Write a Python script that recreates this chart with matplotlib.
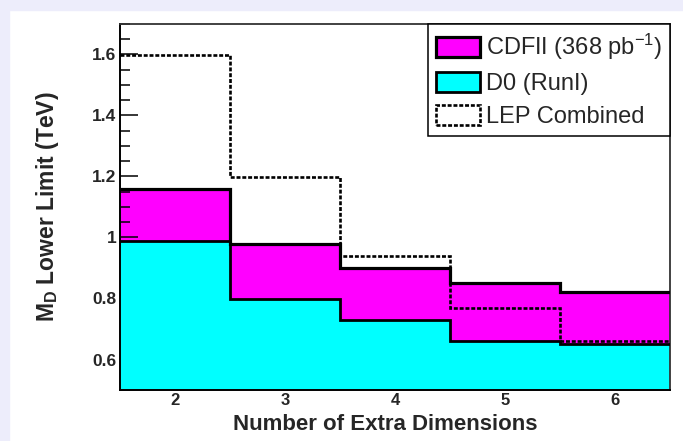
import numpy as np
import matplotlib
matplotlib.use("Agg")
import matplotlib.pyplot as plt
from matplotlib.patches import Patch, Rectangle
from matplotlib.ticker import MultipleLocator, FuncFormatter

plt.rcParams['font.family'] = ['Liberation Sans', 'DejaVu Sans']
plt.rcParams['mathtext.fontset'] = 'custom'
plt.rcParams['mathtext.rm'] = 'Liberation Sans'
plt.rcParams['mathtext.it'] = 'Liberation Sans:italic'
plt.rcParams['mathtext.bf'] = 'Liberation Sans:bold'

# Lower limits on the fundamental Planck scale M_D (TeV) per number of extra dimensions
n_extra_dims = [2, 3, 4, 5, 6]
cdf_run2 = [1.16, 0.98, 0.90, 0.85, 0.82]
d0_run1 = [0.99, 0.80, 0.73, 0.66, 0.65]
lep_combined = [1.60, 1.20, 0.94, 0.77, 0.66]

series_labels = ["CDFII (368 pb$^{\\mathregular{-1}}$)", "D0 (RunI)", "LEP Combined"]
x_label = "Number of Extra Dimensions"
y_label = "M$_{\\mathbf{D}}$ Lower Limit (TeV)"

edges = np.concatenate([np.array(n_extra_dims) - 0.5, [n_extra_dims[-1] + 0.5]])

W, H = 683, 441
fig = plt.figure(figsize=(W / 100, H / 100), dpi=100, facecolor='white')

# lavender border strips on the left and top
lav = '#ededfb'
fig.patches.append(Rectangle((0, 0), 9 / W, 1, transform=fig.transFigure, color=lav, zorder=0))
fig.patches.append(Rectangle((0, 1 - 10 / H), 1, 10 / H, transform=fig.transFigure, color=lav, zorder=0))

ax_l, ax_r, ax_t, ax_b = 120, 670, 24, 390
ax = fig.add_axes([ax_l / W, 1 - ax_b / H, (ax_r - ax_l) / W, (ax_b - ax_t) / H])
ax.set_facecolor('white')

magenta = '#ff00ff'
cyan = '#00ffff'

ax.stairs(cdf_run2, edges, fill=True, color=magenta, lw=0, baseline=0.0, zorder=1)
ax.stairs(d0_run1, edges, fill=True, color=cyan, lw=0, baseline=0.0, zorder=2)
ax.stairs(cdf_run2, edges, baseline=None, color='black', lw=2.3, zorder=3)
ax.stairs(d0_run1, edges, baseline=None, color='black', lw=2.0, zorder=3)
ax.stairs(lep_combined, edges, baseline=None, color='black', lw=1.9,
          linestyle=(0, (1.5, 0.7)), zorder=4)

ax.set_xlim(1.5, 6.5)
ax.set_ylim(0.5, 1.7)

ax.xaxis.set_major_locator(MultipleLocator(1))
ax.yaxis.set_major_locator(MultipleLocator(0.2))
ax.yaxis.set_minor_locator(MultipleLocator(0.05))
ax.yaxis.set_major_formatter(FuncFormatter(lambda v, p: f"{v:g}"))

txt_col = '#262626'
ax.tick_params(axis='y', which='major', direction='in', length=13, width=1.1,
               pad=2.5, labelsize=12.5, labelcolor=txt_col, left=True, right=False)
ax.tick_params(axis='y', which='minor', direction='in', length=7.5, width=1.1,
               left=True, right=False)
ax.tick_params(axis='x', which='major', direction='in', length=8, width=1.1,
               pad=2.5, labelsize=12, labelcolor=txt_col, bottom=True, top=False)
ax.tick_params(axis='x', which='minor', bottom=False, top=False)
for lbl in ax.get_xticklabels() + ax.get_yticklabels():
    lbl.set_fontweight('bold')

for side in ['left', 'bottom']:
    ax.spines[side].set_linewidth(1.4)
    ax.spines[side].set_color('black')
for side in ['top', 'right']:
    ax.spines[side].set_linewidth(1.3)
    ax.spines[side].set_color('#333333')

ax.set_xlabel(x_label, fontsize=16, fontweight='bold', color=txt_col)
ax.set_ylabel(y_label, fontsize=16.5, fontweight='bold', color=txt_col)
ax.xaxis.set_label_coords(0.482, -0.065)
ax.yaxis.set_label_coords(-0.107, 0.5)

handles = [
    Patch(facecolor=magenta, edgecolor='black', lw=2.3),
    Patch(facecolor=cyan, edgecolor='black', lw=2.0),
    Patch(facecolor='white', edgecolor='black', lw=1.9, linestyle=(0, (1.5, 0.7))),
]
leg = ax.legend(handles, series_labels, loc='upper right', bbox_to_anchor=(1.0, 1.0),
                borderaxespad=0, fancybox=False, framealpha=1, edgecolor='black',
                fontsize=17, handlelength=1.85, handleheight=0.9, handletextpad=0.25,
                labelspacing=0.42, borderpad=0.35, labelcolor=txt_col)
leg.get_frame().set_linewidth(1.1)
leg.set_zorder(10)

fig.savefig('out.png', dpi=100, facecolor=fig.get_facecolor())
